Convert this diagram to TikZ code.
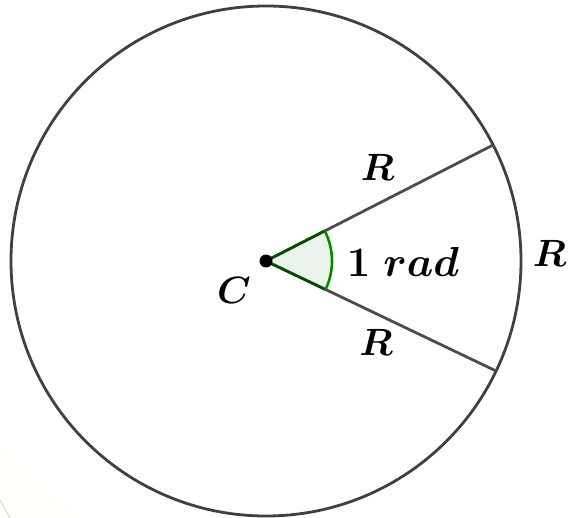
\RequirePackage{fix-cm}
\documentclass[tikz,border=0pt]{standalone}
\usepackage{bm}
\usetikzlibrary{calc}
\begin{document}
\begin{tikzpicture}[x=1pt,y=-1pt,
  rim/.style={draw=black!75, line width=2.8pt},
  radius line/.style={draw=black!70, line width=2.8pt},
  lbl/.style={inner sep=0pt, font=\fontsize{38}{45}\selectfont},
  biglbl/.style={inner sep=0pt, font=\fontsize{42}{50}\selectfont}]
\useasboundingbox (0,0) rectangle (572,518);
% faint background shade
\fill[black!3!yellow!1!white] (0,435) .. controls (20,470) and (50,497) .. (90,518) -- (0,518) -- cycle;
\draw[black!22, line width=0.6pt] (0,500) -- (10,518);
\coordinate (C) at (266,261);
\draw[rim] (C) circle (255);
\coordinate (P) at ($(C)+(-27.06:255)$);
\coordinate (Q) at ($(C)+(25.55:255)$);
\draw[radius line] (C) -- (P);
\draw[radius line] (C) -- (Q);
\fill[green!30!black!8!white] (C) -- ($(C)+(-27.06:66)$) arc (-27.06:25.55:66) -- cycle;
\draw[draw=green!30!black, line width=2.8pt] ($(C)+(-27.06:66)$) -- (C) -- ($(C)+(25.55:66)$);
\draw[draw=green!55!black, line width=2.6pt] ($(C)+(-27.06:66)$) arc (-27.06:25.55:66);
\fill[black] (C) circle (6.5);
\node[lbl] (lc) at (234,290) {$\bm{C}$};
\node[lbl] (lr1) at (377.5,167.5) {$\bm{R}$};
\node[lbl] (lr2) at (376,342) {$\bm{R}$};
\node[lbl] (lr3) at (549.5,253) {$\bm{R}$};
\node[biglbl] (lrad) at (403,262) {$\bm{1\ rad}$};
\end{tikzpicture}
\end{document}
